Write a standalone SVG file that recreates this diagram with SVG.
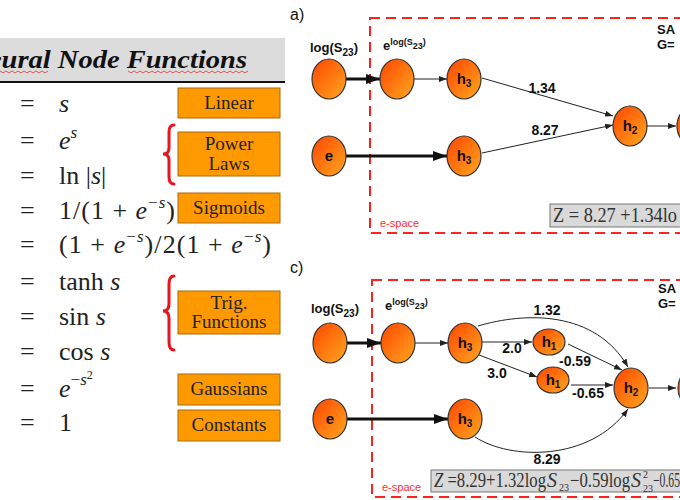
<svg xmlns="http://www.w3.org/2000/svg" width="680" height="500" viewBox="0 0 680 500">
<style>
.eq{font-family:"Liberation Serif",serif;font-size:26px;fill:#222}
.it{font-style:italic}
.box{fill:#ff9900;stroke:#a86a10;stroke-width:1}
.bt{font-family:"Liberation Serif",serif;font-size:19px;fill:#222;text-anchor:middle}
.brace{fill:none;stroke:#e8141e;stroke-width:3;stroke-linecap:round}
.node{fill:url(#og);stroke:#333;stroke-width:1.2}
.nl{font-family:"Liberation Sans",sans-serif;font-weight:bold;font-size:15px;fill:#111;text-anchor:middle}
.lab{font-family:"Liberation Sans",sans-serif;font-weight:bold;font-size:13px;fill:#111}
.wl{font-family:"Liberation Sans",sans-serif;font-weight:bold;font-size:14px;fill:#111;text-anchor:middle}
.thin{stroke:#222;stroke-width:1;fill:none;marker-end:url(#ah)}
.thick{stroke:#111;stroke-width:3;fill:none;marker-end:url(#ahb)}
.dash{fill:none;stroke:#ff2020;stroke-width:2;stroke-dasharray:10,6}
.es{font-family:"Liberation Sans",sans-serif;font-size:11px;fill:#ff3030}
.fb{fill:#d9d9d9;stroke:#777;stroke-width:1}
.ft{font-family:"Liberation Serif",serif;font-size:20px;fill:#333}
.fs{font-family:"Liberation Serif",serif;font-size:10px;fill:#333}
</style>
<defs>
<linearGradient id="og" x1="0" y1="0" x2="1" y2="1">
<stop offset="0" stop-color="#ff4500"/>
<stop offset="1" stop-color="#ffa820"/>
</linearGradient>
<marker id="ah" markerWidth="8" markerHeight="6" refX="8" refY="3" orient="auto" markerUnits="userSpaceOnUse">
<path d="M0,0 L8,3 L0,6 Z" fill="#222"/>
</marker>
<marker id="ahb" markerWidth="14" markerHeight="10" refX="14" refY="5" orient="auto" markerUnits="userSpaceOnUse">
<path d="M0,0 L14,5 L0,10 Z" fill="#111"/>
</marker>
</defs>

<!-- Left panel -->
<g id="table">
<rect x="0" y="38" width="285" height="44" fill="#dcdcdc"/>
<line x1="0" y1="82" x2="285" y2="82" stroke="#111" stroke-width="2"/>
<text transform="translate(247,68) scale(1.14,1)" x="0" y="0" text-anchor="end" font-family="Liberation Serif,serif" font-weight="bold" font-style="italic" font-size="25" fill="#111">Neural Node Functions</text>
<path d="M0,71 l3,2 l3,-2 l3,2 l3,-2 l3,2 l3,-2 l3,2 l3,-2 l3,2 l3,-2 l3,2 l3,-2 l3,2 l3,-2 l3,2 l3,-2" fill="none" stroke="#e03030" stroke-width="0.8"/>
<path d="M128,71 l3,2 l3,-2 l3,2 l3,-2 l3,2 l3,-2 l3,2 l3,-2 l3,2 l3,-2 l3,2 l3,-2 l3,2 l3,-2 l3,2 l3,-2 l3,2 l3,-2 l3,2 l3,-2 l3,2 l3,-2 l3,2 l3,-2 l3,2 l3,-2 l3,2 l3,-2 l3,2 l3,-2 l3,2 l3,-2 l3,2 l3,-2 l3,2 l3,-2 l3,2 l3,-2 l3,2 l3,-2" fill="none" stroke="#e03030" stroke-width="0.8"/>
<g class="eq">
<text x="20" y="112">=</text><text x="59" y="112" class="it">s</text>
<text x="20" y="149">=</text><text x="59" y="149"><tspan class="it">e</tspan><tspan class="it" font-size="17" dy="-11">s</tspan></text>
<text x="20" y="184">=</text><text x="59" y="184">ln |<tspan class="it">s</tspan>|</text>
<text x="20" y="219">=</text><text x="59" y="219" textLength="116" lengthAdjust="spacing">1/(1 + <tspan class="it">e</tspan><tspan font-size="17" dy="-11">−<tspan class="it">s</tspan></tspan><tspan dy="11">)</tspan></text>
<text x="20" y="253">=</text><text x="59" y="253" textLength="212" lengthAdjust="spacing">(1 + <tspan class="it">e</tspan><tspan font-size="17" dy="-11">−<tspan class="it">s</tspan></tspan><tspan dy="11">)/2(1 + </tspan><tspan class="it">e</tspan><tspan font-size="17" dy="-11">−<tspan class="it">s</tspan></tspan><tspan dy="11">)</tspan></text>
<text x="20" y="290">=</text><text x="59" y="290">tanh <tspan class="it">s</tspan></text>
<text x="20" y="325">=</text><text x="59" y="325">sin <tspan class="it">s</tspan></text>
<text x="20" y="360">=</text><text x="59" y="360">cos <tspan class="it">s</tspan></text>
<text x="20" y="397">=</text><text x="59" y="397"><tspan class="it">e</tspan><tspan font-size="17" dy="-12">−<tspan class="it">s</tspan></tspan><tspan font-size="12" dy="-6">2</tspan></text>
<text x="20" y="431">=</text><text x="59" y="431">1</text>
</g>
</g>
<g id="box-linear"><rect class="box" x="178" y="88" width="102" height="30"/><text class="bt" x="229" y="109">Linear</text></g>
<g id="box-power"><rect class="box" x="178" y="132" width="102" height="44"/><text class="bt" x="229" y="150">Power</text><text class="bt" x="229" y="170">Laws</text></g>
<g id="box-sigmoids"><rect class="box" x="178" y="193" width="102" height="30"/><text class="bt" x="229" y="214">Sigmoids</text></g>
<g id="box-trig"><rect class="box" x="178" y="291" width="102" height="43"/><text class="bt" x="229" y="309">Trig.</text><text class="bt" x="229" y="328">Functions</text></g>
<g id="box-gauss"><rect class="box" x="178" y="374" width="102" height="31"/><text class="bt" x="229" y="395">Gaussians</text></g>
<g id="box-const"><rect class="box" x="178" y="410" width="102" height="31"/><text class="bt" x="229" y="431">Constants</text></g>
<g id="braces">
<path class="brace" d="M174,125 Q169,125 169,132 L169,148 Q169,154 163,154 Q169,154 169,160 L169,177 Q169,184 174,184"/>
<path class="brace" d="M174,276 Q169,276 169,284 L169,304 Q169,311 163,311 Q169,311 169,318 L169,342 Q169,350 174,350"/>
</g>

<!-- Panel a -->
<text x="290" y="20" font-family="Liberation Sans,sans-serif" font-size="16" fill="#111">a)</text>
<rect class="dash" x="370" y="18" width="330" height="215"/>
<text class="es" x="380" y="227">e-space</text>
<text class="lab" x="657" y="34">SA</text>
<text class="lab" x="657" y="49">G=</text>
<text class="lab" x="310" y="52">log(S<tspan font-size="10" dy="4">23</tspan><tspan dy="-4">)</tspan></text>
<text class="lab" x="383" y="50">e<tspan font-size="9" dy="-5">log(S</tspan><tspan font-size="9" dy="4">23</tspan><tspan font-size="9" dy="-4">)</tspan></text>
<g id="a-edges">
<line class="thick" x1="346" y1="79" x2="380" y2="79"/>
<line class="thin" x1="414" y1="79" x2="447" y2="79"/>
<line class="thin" x1="482" y1="78" x2="613" y2="116"/>
<line class="thin" x1="482" y1="153" x2="613" y2="125"/>
<line class="thick" x1="346" y1="156" x2="447" y2="156"/>
<line class="thin" x1="647" y1="126" x2="676" y2="126"/>
<text class="wl" x="542" y="93">1.34</text>
<text class="wl" x="545" y="135">8.27</text>
</g>
<g id="a-n-log"><ellipse class="node" cx="329" cy="79" rx="17" ry="20"/></g>
<g id="a-n-elog"><ellipse class="node" cx="397" cy="79" rx="17" ry="20"/></g>
<g id="a-n-h3a"><ellipse class="node" cx="464" cy="79" rx="17" ry="20"/><text class="nl" x="464" y="84">h<tspan font-size="10" dy="3">3</tspan></text></g>
<g id="a-n-e"><ellipse class="node" cx="329" cy="156" rx="17" ry="20"/><text class="nl" x="329" y="161">e</text></g>
<g id="a-n-h3b"><ellipse class="node" cx="464" cy="156" rx="17" ry="20"/><text class="nl" x="464" y="161">h<tspan font-size="10" dy="3">3</tspan></text></g>
<g id="a-n-h2"><ellipse class="node" cx="630" cy="126" rx="17" ry="20"/><text class="nl" x="630" y="131">h<tspan font-size="10" dy="3">2</tspan></text></g>
<g id="a-n-out"><ellipse class="node" cx="694" cy="126" rx="17" ry="20"/></g>
<g id="a-formula"><rect class="fb" x="550" y="204" width="140" height="23"/><text class="ft" x="553" y="222" textLength="124" lengthAdjust="spacingAndGlyphs">Z = 8.27 +1.34lo</text></g>

<!-- Panel c -->
<text x="290" y="273" font-family="Liberation Sans,sans-serif" font-size="16" fill="#111">c)</text>
<rect class="dash" x="372" y="280" width="330" height="217"/>
<text class="es" x="382" y="491">e-space</text>
<text class="lab" x="658" y="293">SA</text>
<text class="lab" x="658" y="308">G=</text>
<text class="lab" x="311" y="313">log(S<tspan font-size="10" dy="4">23</tspan><tspan dy="-4">)</tspan></text>
<text class="lab" x="385" y="310">e<tspan font-size="9" dy="-5">log(S</tspan><tspan font-size="9" dy="4">23</tspan><tspan font-size="9" dy="-4">)</tspan></text>
<g id="c-edges">
<line class="thick" x1="347" y1="343" x2="381" y2="343"/>
<line class="thin" x1="415" y1="343" x2="448" y2="343"/>
<path class="thin" d="M478,326 C525,312 595,310 628,367"/>
<line class="thin" x1="482" y1="342" x2="532" y2="342"/>
<line class="thin" x1="479" y1="355" x2="537" y2="377"/>
<line class="thin" x1="568" y1="344" x2="622" y2="370"/>
<line class="thin" x1="571" y1="385" x2="613" y2="385"/>
<path class="thin" d="M475,437 C510,460 590,462 628,409"/>
<line class="thick" x1="347" y1="419" x2="448" y2="419"/>
<line class="thin" x1="649" y1="388" x2="676" y2="388"/>
<text class="wl" x="547" y="315">1.32</text>
<text class="wl" x="512" y="353">2.0</text>
<text class="wl" x="497" y="378">3.0</text>
<text class="wl" x="575" y="366">-0.59</text>
<text class="wl" x="588" y="398">-0.65</text>
<text class="wl" x="547" y="464">8.29</text>
</g>
<g id="c-n-log"><ellipse class="node" cx="330" cy="343" rx="17" ry="20"/></g>
<g id="c-n-elog"><ellipse class="node" cx="398" cy="343" rx="17" ry="20"/></g>
<g id="c-n-h3a"><ellipse class="node" cx="465" cy="343" rx="17" ry="20"/><text class="nl" x="465" y="348">h<tspan font-size="10" dy="3">3</tspan></text></g>
<g id="c-n-h1a"><ellipse class="node" cx="549" cy="342" rx="16" ry="13"/><text class="nl" x="549" y="347">h<tspan font-size="10" dy="3">1</tspan></text></g>
<g id="c-n-h1b"><ellipse class="node" cx="553" cy="380" rx="16" ry="13"/><text class="nl" x="553" y="385">h<tspan font-size="10" dy="3">1</tspan></text></g>
<g id="c-n-h2"><ellipse class="node" cx="631" cy="388" rx="17" ry="20"/><text class="nl" x="631" y="393">h<tspan font-size="10" dy="3">2</tspan></text></g>
<g id="c-n-out"><ellipse class="node" cx="695" cy="388" rx="17" ry="20"/></g>
<g id="c-n-e"><ellipse class="node" cx="330" cy="419" rx="17" ry="20"/><text class="nl" x="330" y="424">e</text></g>
<g id="c-n-h3b"><ellipse class="node" cx="465" cy="419" rx="17" ry="20"/><text class="nl" x="465" y="424">h<tspan font-size="10" dy="3">3</tspan></text></g>
<g id="c-formula">
<rect class="fb" x="431" y="470" width="260" height="22"/>
<text class="ft" x="434" y="487" textLength="112" lengthAdjust="spacingAndGlyphs"><tspan font-style="italic">Z</tspan> =8.29+1.32log</text>
<text class="ft" x="547" y="487" font-style="italic">S</text>
<text class="fs" x="559" y="491">23</text>
<text class="ft" x="570" y="487" textLength="60" lengthAdjust="spacingAndGlyphs">−0.59log</text>
<text class="ft" x="631" y="487" font-style="italic">S</text>
<text class="fs" x="643" y="478">2</text>
<text class="fs" x="643" y="492">23</text>
<text class="ft" x="653" y="487" textLength="27" lengthAdjust="spacingAndGlyphs">−0.65</text>
</g>
</svg>
